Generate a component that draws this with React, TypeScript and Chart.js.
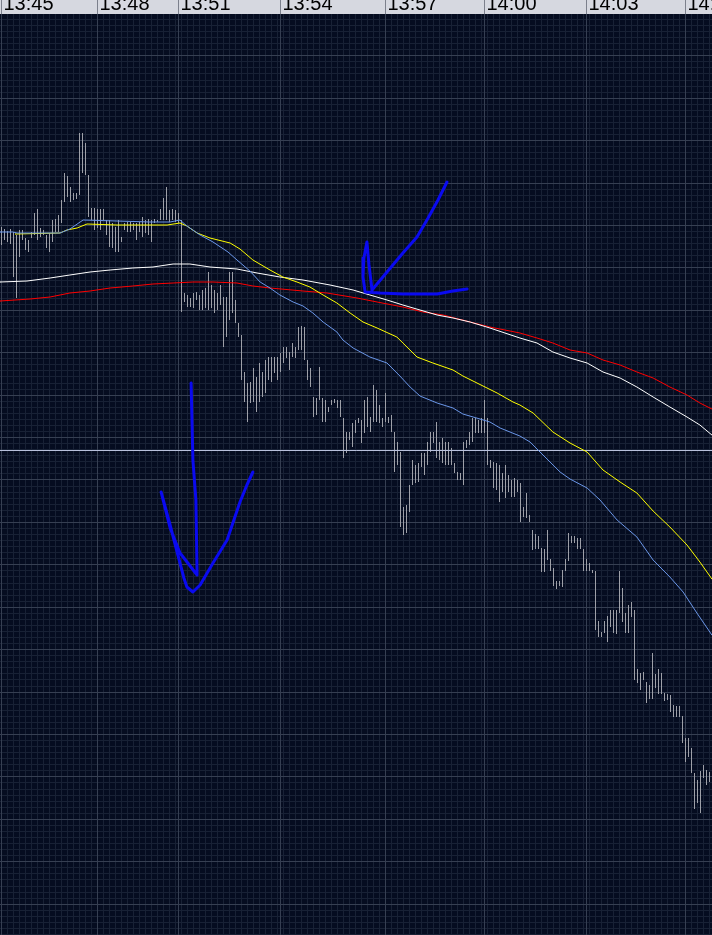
import React, { useEffect, useRef } from 'react';
import { Chart, registerables } from 'chart.js';

Chart.register(...registerables);

// ---- time axis (bar index of each time label) ----
const TIME_LABELS = ['13:45', '13:48', '13:51', '13:54', '13:57', '14:00', '14:03', '14:06'];
const TIME_TICK_INDEX = [0, 32, 59, 93, 128, 161, 195, 228];

// ---- price bars (high / low per tick bar) ----
const HIGH = [
  773, 771, 769, 771, 768, 765, 770, 770, 762, 760,
  768, 787, 791, 772, 770, 765, 767, 780, 781, 785,
  800, 827, 824, 813, 807, 807, 867, 867, 857, 825,
  792, 792, 791, 791, 791, 780, 780, 777, 773, 780,
  763, 777, 778, 778, 777, 777, 778, 783, 780, 781,
  780, 781, 780, 791, 802, 813, 790, 791, 790, 787,
  780, 707, 705, 702, 707, 708, 705, 710, 712, 728,
  715, 710, 707, 715, 703, 703, 728, 728, 700, 677,
  665, 628, 617, 618, 632, 623, 637, 628, 640, 643,
  643, 643, 643, 647, 653, 653, 648, 657, 653, 673,
  674, 673, 640, 632, 603, 602, 633, 602, 600, 593,
  600, 601, 600, 600, 582, 568, 568, 577, 580, 582,
  580, 600, 603, 583, 615, 610, 595, 582, 607, 583,
  585, 568, 558, 548, 493, 495, 515, 540, 535, 537,
  547, 547, 558, 568, 568, 578, 558, 562, 558, 558,
  552, 537, 528, 527, 558, 560, 568, 582, 582, 580,
  582, 600, 582, 540, 538, 537, 535, 527, 535, 525,
  520, 522, 520, 517, 493, 507, 485, 470, 466, 464,
  452, 451, 470, 441, 432, 419, 419, 430, 441, 467,
  464, 464, 462, 462, 451, 441, 437, 430, 429, 379,
  368, 379, 384, 390, 390, 390, 429, 412, 387, 395,
  398, 390, 331, 327, 328, 318, 315, 347, 326, 331,
  327, 307, 306, 305, 295, 294, 294, 284, 262, 262,
  252, 227, 220, 229, 235, 230, 228,
];
const LOW = [
  755, 760, 758, 756, 723, 702, 743, 760, 750, 748,
  762, 765, 760, 763, 765, 752, 748, 758, 768, 768,
  777, 798, 803, 798, 800, 801, 805, 827, 825, 783,
  780, 770, 772, 770, 780, 765, 753, 752, 748, 748,
  758, 770, 768, 768, 770, 760, 768, 763, 767, 765,
  758, 777, 778, 780, 780, 780, 778, 780, 778, 777,
  688, 698, 693, 693, 692, 700, 690, 690, 692, 690,
  692, 687, 690, 695, 653, 663, 680, 687, 677, 663,
  620, 598, 578, 597, 598, 588, 598, 603, 607, 620,
  618, 627, 620, 628, 637, 642, 630, 643, 642, 650,
  650, 640, 620, 613, 583, 585, 600, 578, 578, 588,
  595, 597, 592, 583, 542, 547, 560, 553, 567, 577,
  557, 567, 573, 568, 578, 578, 577, 573, 578, 577,
  568, 528, 535, 473, 465, 467, 488, 515, 517, 518,
  533, 525, 535, 548, 557, 542, 540, 537, 535, 535,
  535, 527, 520, 520, 515, 552, 555, 558, 567, 567,
  567, 567, 535, 532, 512, 510, 498, 508, 502, 508,
  503, 503, 508, 478, 483, 482, 478, 450, 451, 451,
  428, 428, 440, 429, 414, 411, 414, 413, 429, 439,
  457, 457, 451, 451, 429, 429, 429, 427, 370, 363,
  363, 367, 358, 373, 367, 366, 387, 378, 367, 367,
  383, 320, 317, 310, 320, 297, 301, 301, 312, 306,
  306, 299, 300, 288, 283, 283, 283, 257, 238, 243,
  227, 191, 197, 187, 222, 215, 218,
];

// ---- moving averages, [bar index, price] ----
const MA_FAST = [
  [-0.5, 768], [3.8, 768], [5.2, 767], [19.5, 767], [22.8, 771], [27.2, 780], [38.5, 779], [49.5, 778],
  [56.2, 778], [59.5, 780], [61.8, 774], [66.2, 765], [70.5, 758], [75.5, 748], [78.5, 740], [82.8, 729],
  [86.2, 718], [89.5, 712], [92.8, 705], [97.2, 698], [100.5, 694], [103.8, 687], [107.2, 678], [111.8, 668],
  [113.8, 660], [117.2, 652], [122.8, 643], [128.5, 637], [132.8, 624], [136.2, 613], [139.5, 604], [145.2, 597],
  [150.5, 592], [153.8, 586], [159.5, 581], [162.8, 578], [166.2, 572], [172.8, 564], [176.2, 558], [179.5, 548],
  [186.2, 528], [189.5, 521], [195.2, 512], [199.5, 500], [205.2, 480], [211.8, 463], [217.2, 440], [222.8, 423],
  [227.2, 408], [231.8, 387], [236.8, 365],
];
const MA_MID = [
  [4.5, 766], [19.5, 767], [21.8, 770], [25.2, 772], [28.5, 776], [38.5, 775], [55.2, 775], [59.5, 777],
  [61.8, 774], [65.2, 767], [69.5, 762], [76.2, 757], [79.5, 751], [83.8, 740], [89.5, 730], [93.8, 723],
  [98.5, 718], [102.8, 713], [107.2, 705], [111.8, 697], [116.2, 687], [120.5, 678], [125.2, 672], [131.8, 663],
  [133.8, 657], [138.5, 643], [143.8, 637], [150.5, 630], [153.8, 624], [160.5, 614], [165.2, 607], [170.5, 598],
  [172.8, 595], [177.2, 587], [183.8, 568], [189.5, 557], [195.2, 548], [200.5, 530], [206.2, 518], [211.8, 507],
  [217.2, 489], [222.8, 473], [228.5, 455], [232.8, 438], [236.8, 421],
];
const MA_SLOW = [
  [-0.5, 718], [8.5, 719], [16.2, 722], [22.8, 725], [29.5, 728], [36.2, 730], [43.8, 732], [50.5, 733],
  [57.2, 736], [62.8, 736], [69.5, 733], [78.5, 731], [85.2, 727], [92.8, 723], [100.5, 720], [109.5, 715],
  [117.2, 710], [122.8, 705], [128.5, 700], [133.8, 695], [139.5, 690], [145.2, 685], [150.5, 682], [156.2, 678],
  [162.8, 672], [172.8, 662], [178.5, 657], [183.8, 648], [189.5, 642], [195.2, 637], [200.5, 628], [206.2, 622],
  [211.8, 613], [217.2, 603], [222.8, 593], [228.5, 583], [232.8, 575], [236.8, 565],
];
const MA_LONG = [
  [-0.5, 699], [9.5, 701], [16.2, 703], [22.8, 707], [29.5, 709], [36.2, 712], [43.8, 714], [50.5, 716],
  [57.2, 717], [63.8, 718], [70.5, 718], [78.5, 717], [83.8, 714], [89.5, 712], [100.5, 709], [108.5, 707],
  [118.5, 702], [125.2, 698], [133.8, 693], [140.5, 688], [147.2, 685], [156.2, 678], [162.8, 673], [172.8, 667],
  [178.5, 662], [183.8, 657], [189.5, 650], [195.2, 647], [200.5, 640], [206.2, 635], [211.8, 628], [217.2, 622],
  [222.8, 613], [228.5, 605], [232.8, 597], [236.8, 591],
];

// ---- reference price line ----
const LAST_PRICE = 549.5;

// ---- hand-drawn annotations, [bar index, price] ----
const ARROW_DOWN = [
  [63.2, 617], [63.8, 540], [64.8, 500], [65.2, 425], [59.5, 447], [56.2, 472], [53.2, 508], [56.2, 475],
  [58.8, 445], [60.8, 422], [61.8, 413], [63.8, 408], [66.2, 415], [70.5, 437], [75.2, 460], [79.5, 498],
  [81.8, 515], [83.8, 528],
];
const ARROW_CROSS = [
  [148.5, 818], [145.5, 800], [142.2, 782], [138.5, 763], [133.8, 747], [128.5, 728], [123.5, 710], [122.5, 735],
  [121.8, 758], [120.8, 742], [120.5, 723], [121.2, 708], [126.2, 707], [133.8, 706], [145.2, 706], [150.5, 709],
  [155.2, 711],
];

// ---- view / style ----
const X_MIN = -0.5;
const X_MAX = 236.8333;
const Y_MIN = 65;
const Y_MAX = 986;
const Y_GRID_START = 944.2;
const Y_GRID_STEP = 42.42;
const Y_MINOR_DIV = 7;
const X_MINOR_STEP = 2;

const BG = '#050c20';
const STRIP = '#d6d8e0';
const STRIP_TICK = '#7c808c';
const GRID_MAJOR = '#363f52';
const GRID_MINOR = '#182135';
const BAR_COLOR = '#9ea0a8';
const FONT = "'Liberation Sans', Arial, sans-serif";

const pts = (arr: number[][]) => arr.map(([x, y]) => ({ x, y }));

const backdrop = {
  id: 'backdrop',
  beforeDraw(chart: any) {
    const { ctx, chartArea, width, height } = chart;
    ctx.save();
    ctx.fillStyle = STRIP;
    ctx.fillRect(0, 0, width, chartArea.top);
    ctx.fillStyle = BG;
    ctx.fillRect(0, chartArea.top, width, height - chartArea.top);
    const xs = chart.scales.x;
    ctx.strokeStyle = STRIP_TICK;
    ctx.lineWidth = 1;
    xs.ticks.forEach((t: any) => {
      const px = Math.round(xs.getPixelForValue(t.value) - 0.5) + 0.5;
      ctx.beginPath();
      ctx.moveTo(px, 0);
      ctx.lineTo(px, chartArea.top);
      ctx.stroke();
    });
    ctx.restore();
  },
};

function yMajorTicks() {
  const out: { value: number }[] = [];
  for (let v = Y_GRID_START; v >= Y_MIN; v -= Y_GRID_STEP) out.push({ value: v });
  return out;
}
function yMinorTicks() {
  const step = Y_GRID_STEP / Y_MINOR_DIV;
  const out: { value: number }[] = [];
  let v = Y_GRID_START;
  while (v + step <= Y_MAX) v += step;
  for (; v >= Y_MIN; v -= step) out.push({ value: v });
  return out;
}
function xMinorTicks() {
  const out: { value: number }[] = [];
  for (let v = 0; v <= X_MAX; v += X_MINOR_STEP) out.push({ value: v });
  return out;
}

export default function App() {
  const ref = useRef<HTMLCanvasElement | null>(null);

  useEffect(() => {
    document.body.style.margin = '0';
    const canvas = ref.current;
    if (!canvas) return;

    const bars = HIGH.map((h, i) => ({ x: i, y: [LOW[i], h] }));
    const line = (data: any, color: string, order: number, width = 1) => ({
      type: 'line' as const,
      data,
      borderColor: color,
      borderWidth: width,
      pointRadius: 0,
      fill: false,
      tension: 0,
      order,
      borderCapStyle: 'round',
      borderJoinStyle: 'round',
    });

    const chart = new Chart(canvas, {
      type: 'bar',
      data: {
        datasets: [
          line(pts(ARROW_DOWN), '#0a0af0', 0, 3),
          line(pts(ARROW_CROSS), '#0a0af0', 0, 3),
          line(pts(MA_FAST), '#6a96e8', 1),
          line(pts(MA_MID), '#ffff00', 2),
          line(pts(MA_SLOW), '#ffffff', 3),
          line(pts(MA_LONG), '#ff0000', 4),
          line([{ x: X_MIN, y: LAST_PRICE }, { x: X_MAX, y: LAST_PRICE }], '#b8c0dc', 5),
          {
            type: 'bar' as const,
            data: bars as any,
            backgroundColor: BAR_COLOR,
            borderWidth: 0,
            barThickness: 1,
            inflateAmount: 0,
            grouped: false,
            order: 6,
          } as any,
        ],
      },
      options: {
        animation: false,
        responsive: false,
        devicePixelRatio: 1,
        events: [],
        layout: { padding: { top: -6, left: 0, right: 0, bottom: 0 } },
        plugins: { legend: { display: false }, tooltip: { enabled: false } },
        scales: {
          xMinor: {
            axis: 'x',
            type: 'linear',
            position: 'top',
            min: X_MIN,
            max: X_MAX,
            offset: false,
            ticks: { display: false },
            grid: { color: GRID_MINOR, drawTicks: false, offset: false, z: -2 },
            border: { display: false },
            afterBuildTicks: (s: any) => { s.ticks = xMinorTicks(); },
          },
          yMinor: {
            axis: 'y',
            type: 'linear',
            position: 'left',
            min: Y_MIN,
            max: Y_MAX,
            ticks: { display: false },
            grid: { color: GRID_MINOR, drawTicks: false, z: -2 },
            border: { display: false },
            afterBuildTicks: (s: any) => { s.ticks = yMinorTicks(); },
          },
          x: {
            type: 'linear',
            position: 'top',
            min: X_MIN,
            max: X_MAX,
            offset: false,
            ticks: {
              display: true,
              color: '#000000',
              font: { family: FONT, size: 20, lineHeight: 1 },
              align: 'start',
              labelOffset: 2,
              padding: 0,
              autoSkip: false,
              maxRotation: 0,
              minRotation: 0,
              callback: (_v: any, i: number) => TIME_LABELS[i] ?? '',
            },
            grid: { color: GRID_MAJOR, drawTicks: false, offset: false, z: -1 },
            border: { display: false },
            afterBuildTicks: (s: any) => { s.ticks = TIME_TICK_INDEX.map((v) => ({ value: v })); },
            afterFit: (s: any) => { s.paddingLeft = 0; s.paddingRight = 0; },
          },
          y: {
            type: 'linear',
            position: 'left',
            min: Y_MIN,
            max: Y_MAX,
            ticks: { display: false },
            grid: { color: GRID_MAJOR, drawTicks: false, z: -1 },
            border: { display: false },
            afterBuildTicks: (s: any) => { s.ticks = yMajorTicks(); },
          },
        },
      } as any,
      plugins: [backdrop],
    });

    return () => chart.destroy();
  }, []);

  return (
    <canvas
      ref={ref}
      width={712}
      height={935}
      style={{ display: 'block', width: 712, height: 935 }}
    />
  );
}
